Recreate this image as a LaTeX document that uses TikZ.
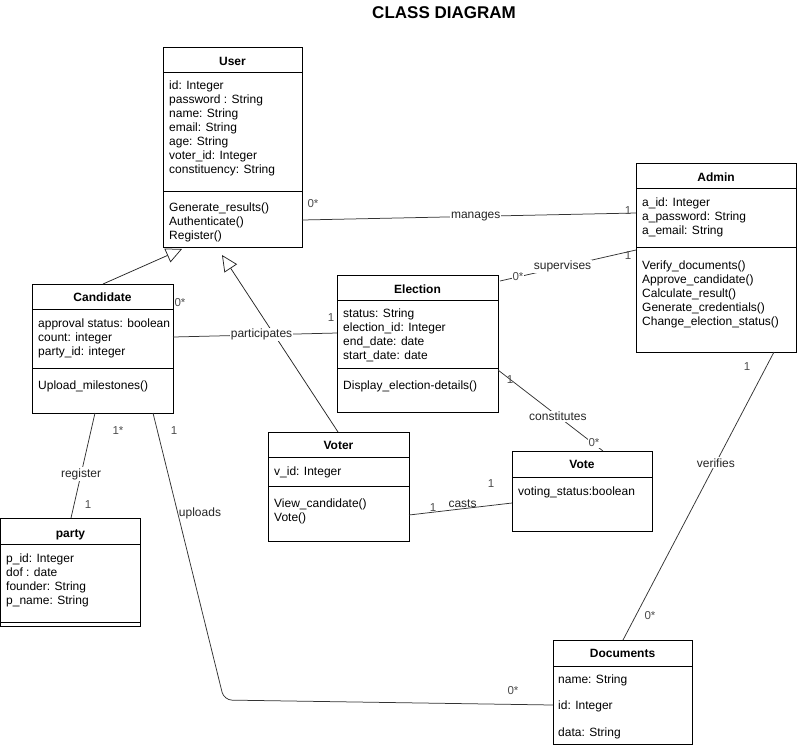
\documentclass[tikz,border=0pt]{standalone}
\usepackage{fontspec}
\setmainfont{Liberation Sans}
\usepackage{tikz}
\usetikzlibrary{arrows.meta,positioning,calc}

\tikzset{
  classbox/.style={draw, line width=0.9pt, anchor=north west, inner sep=0pt, outer sep=0pt},
  cname/.style={font=\fontsize{12}{14}\selectfont\bfseries, anchor=base, inner sep=0pt},
  members/.style={font=\fontsize{12}{14}\selectfont, anchor=north west, align=left, inner sep=0pt},
  assoc/.style={line width=0.75pt, black!80},
  lbl/.style={fill=white, inner sep=1pt, font=\fontsize{12}{14}\selectfont, text=black!85},
  mult/.style={font=\fontsize{11.5}{13}\selectfont, text=black!70, inner sep=0pt},
  inherit/.style={line width=0.75pt, black!85, -{Triangle[open, length=16pt, width=15pt]}},
}

\begin{document}
\begin{tikzpicture}[x=1pt, y=1pt]
    \useasboundingbox (0,0) rectangle (797,-748);
    \node[font=\fontsize{17}{20}\selectfont\bfseries] (title) at (444,-13) {CLASS DIAGRAM};

    % Class boxes
    \node[classbox, minimum width=139pt, minimum height=200pt] (user) at (163,-47) {};
    \node[classbox, minimum width=141pt, minimum height=129pt] (candidate) at (32,-284) {};
    \node[classbox, minimum width=161pt, minimum height=137pt] (election) at (337,-275) {};
    \node[classbox, minimum width=160pt, minimum height=189pt] (admin) at (636,-163) {};
    \node[classbox, minimum width=141pt, minimum height=109pt] (voter) at (268,-432) {};
    \node[classbox, minimum width=140pt, minimum height=80pt] (vote) at (512,-451) {};
    \node[classbox, minimum width=140pt, minimum height=108pt] (party) at (0.5,-518) {};
    \node[classbox, minimum width=139pt, minimum height=104pt] (documents) at (553,-640) {};

    % Compartment lines
    \foreach \c/\d in {user/25, user/144, candidate/25, candidate/84, election/25, election/93,
                       admin/25, admin/84, voter/25, voter/54, vote/26, party/26, party/104, documents/26}
        \draw[line width=0.9pt] ([yshift=-\d]\c.north west) -- ([yshift=-\d]\c.north east);

    % User
    \node[cname] (user-name) at ([yshift=-18]user.north) {User};
    \node[members] (user-attr) at ([xshift=6, yshift=-34]user.north west)
        {id: Integer\\password : String\\name: String\\email: String\\age: String\\voter\_id: Integer\\constituency: String};
    \node[members] (user-meth) at ([xshift=6, yshift=-155.5]user.north west)
        {Generate\_results()\\Authenticate()\\Register()};

    % Candidate
    \node[cname] (candidate-name) at ([yshift=-17]candidate.north) {Candidate};
    \node[members] (candidate-attr) at ([xshift=6, yshift=-34.5]candidate.north west)
        {approval status: boolean\\count: integer\\party\_id: integer};
    \node[members] (candidate-meth) at ([xshift=6, yshift=-96.5]candidate.north west)
        {Upload\_milestones()};

    % Election
    \node[cname] (election-name) at ([yshift=-18]election.north) {Election};
    \node[members] (election-attr) at ([xshift=6, yshift=-33.5]election.north west)
        {status: String\\election\_id: Integer\\end\_date: date\\start\_date: date};
    \node[members] (election-meth) at ([xshift=6, yshift=-105.5]election.north west)
        {Display\_election-details()};

    % Admin
    \node[cname] (admin-name) at ([yshift=-18]admin.north) {Admin};
    \node[members] (admin-attr) at ([xshift=6, yshift=-34.5]admin.north west)
        {a\_id: Integer\\a\_password: String\\a\_email: String};
    \node[members] (admin-meth) at ([xshift=6, yshift=-97.5]admin.north west)
        {Verify\_documents()\\Approve\_candidate()\\Calculate\_result()\\Generate\_credentials()\\Change\_election\_status()};

    % Voter
    \node[cname] (voter-name) at ([yshift=-17]voter.north) {Voter};
    \node[members] (voter-attr) at ([xshift=6, yshift=-34.4]voter.north west) {v\_id: Integer};
    \node[members] (voter-meth) at ([xshift=6, yshift=-66.4]voter.north west)
        {View\_candidate()\\Vote()};

    % Vote
    \node[cname] (vote-name) at ([yshift=-17]vote.north) {Vote};
    \node[members] (vote-attr) at ([xshift=6, yshift=-35.4]vote.north west) {voting\_status:boolean};

    % party
    \node[cname] (party-name) at ([yshift=-19]party.north) {party};
    \node[members] (party-attr) at ([xshift=5.5, yshift=-35.4]party.north west)
        {p\_id: Integer\\dof : date\\founder: String\\p\_name: String};

    % Documents
    \node[cname] (documents-name) at ([yshift=-17]documents.north) {Documents};
    \node[members, font=\fontsize{12}{26.5}\selectfont] (documents-attr) at ([xshift=5, yshift=-34.4]documents.north west)
        {name: String\\id: Integer\\data: String};

    % Generalisations
    \draw[inherit] ([xshift=71]candidate.north west) -- ([xshift=19, yshift=-2]user.south west);
    \draw[inherit] ([xshift=70]voter.north west) -- ([xshift=59, yshift=-8]user.south west);

    % Associations
    \draw[assoc] ([yshift=-173]user.north east) -- node[lbl, pos=0.52] (manages) {manages} ([yshift=-50]admin.north west);
    \draw[assoc] ([xshift=2, yshift=-6]election.north east) -- node[lbl, pos=0.46] (supervises) {supervises} ([yshift=-87]admin.north west);
    \draw[assoc] ([yshift=-53]candidate.north east) -- node[lbl, pos=0.54] (participates) {participates} ([yshift=-58]election.north west);
    \draw[assoc] ([yshift=-95]election.north east) -- node[lbl, pos=0.57] (constitutes) {constitutes} ([xshift=91]vote.north west);
    \draw[assoc] ([yshift=-83]voter.north east) -- node[above, pos=0.52, font=\fontsize{12}{14}\selectfont, text=black!85, inner sep=1pt] (casts) {casts} ([yshift=-52]vote.north west);
    \draw[assoc] ([xshift=63]candidate.south west) -- node[lbl, pos=0.58] (register) {register} ([xshift=70.5]party.north west);
    \coordinate (upload-bend) at (224,-700);
    \draw[assoc, rounded corners=8pt] ([xshift=121]candidate.south west) -- (upload-bend) -- ([yshift=-65]documents.north west);
    \node[font=\fontsize{12}{14}\selectfont, text=black!85] (uploads) at (200,-513) {uploads};
    \draw[assoc] ([xshift=138]admin.south west) -- node[lbl, pos=0.385] (verifies) {verifies} ([xshift=70]documents.north west);

    % Multiplicities
    \node[mult] (m-user-manages) at (313,-204) {0*};
    \node[mult] (m-admin-manages) at (628,-211) {1};
    \node[mult, fill=white, inner sep=1pt] (m-election-supervises) at (518,-277) {0*};
    \node[mult] (m-admin-supervises) at (628,-256) {1};
    \node[mult] (m-candidate-participates) at (180,-303) {0*};
    \node[mult] (m-election-participates) at (331,-318) {1};
    \node[mult] (m-election-constitutes) at (510,-380) {1};
    \node[mult, fill=white, inner sep=1pt] (m-vote-constitutes) at (594,-443) {0*};
    \node[mult] (m-voter-casts) at (433,-508) {1};
    \node[mult] (m-vote-casts) at (491,-484) {1};
    \node[mult] (m-candidate-register) at (118,-431) {1*};
    \node[mult] (m-party-register) at (88,-505) {1};
    \node[mult] (m-candidate-uploads) at (174,-431) {1};
    \node[mult] (m-documents-uploads) at (513,-691) {0*};
    \node[mult] (m-admin-verifies) at (747,-367) {1};
    \node[mult] (m-documents-verifies) at (650,-616) {0*};
\end{tikzpicture}
\end{document}
